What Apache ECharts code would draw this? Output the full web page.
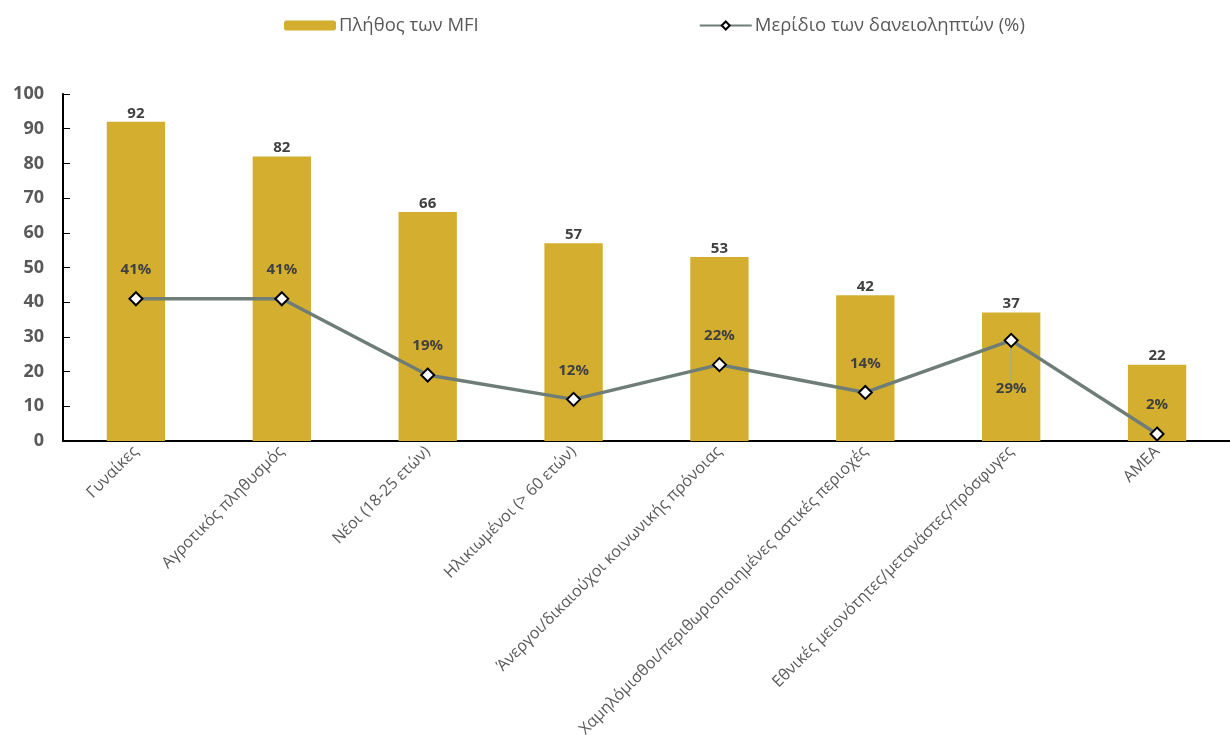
<!DOCTYPE html>
<html>
<head>
<meta charset="utf-8">
<script src="https://cdn.jsdelivr.net/npm/echarts@6/dist/echarts.min.js"></script>
<style>
  html, body { margin: 0; padding: 0; background: #ffffff; }
  #chart { width: 1230px; height: 744px; }
</style>
</head>
<body>
<div id="chart"></div>
<script>
// Target groups served by microfinance institutions
const categories = [
  'Γυναίκες',
  'Αγροτικός πληθυσμός',
  'Νέοι (18-25 ετών)',
  'Ηλικιωμένοι (> 60 ετών)',
  'Άνεργοι/δικαιούχοι κοινωνικής πρόνοιας',
  'Χαμηλόμισθοι/περιθωριοποιημένες αστικές περιοχές',
  'Εθνικές μειονότητες/μετανάστες/πρόσφυγες',
  'ΑΜΕΑ'
];
const mfiCount = [92, 82, 66, 57, 53, 42, 37, 22];
const borrowerShare = [41, 41, 19, 12, 22, 14, 29, 2];
const yTicks = [0, 10, 20, 30, 40, 50, 60, 70, 80, 90, 100];

// index of the share label that sits below its marker, joined by a leader line
const LABEL_BELOW = 6;

const FONT = '"Open Sans", "Noto Sans", sans-serif';
const chart = echarts.init(document.getElementById('chart'));

const shareData = borrowerShare.map((v, i) => (
  i === LABEL_BELOW
    ? { value: v, labelLine: { show: true, lineStyle: { color: '#A6A6A6', width: 1.5 } } }
    : { value: v }
));

chart.setOption({
  animation: false,
  textStyle: { fontFamily: FONT },
  legend: {
    top: 11,
    left: 279,
    itemGap: 220,
    itemWidth: 52,
    itemHeight: 10,
    textStyle: { fontFamily: FONT, fontSize: 18.5, color: '#595959', padding: [0, 0, 0, -2] },
    data: [
      { name: 'Πλήθος των MFI' },
      { name: 'Μερίδιο των δανειοληπτών (%)' }
    ]
  },
  grid: { left: 63, top: 94, bottom: 303, right: -8, containLabel: false },
  xAxis: {
    type: 'category',
    data: categories,
    axisLine: { lineStyle: { color: '#000000', width: 2 } },
    axisTick: { inside: true, length: 6, lineStyle: { color: '#000000' } },
    axisLabel: {
      rotate: 45,
      fontSize: 16,
      color: '#595959',
      margin: 8,
      interval: 0
    }
  },
  yAxis: {
    type: 'value',
    min: yTicks[0],
    max: yTicks[yTicks.length - 1],
    interval: 10,
    splitLine: { show: false },
    axisLine: { show: true, lineStyle: { color: '#000000', width: 2 } },
    axisTick: { show: true, inside: true, length: 7, lineStyle: { color: '#000000' } },
    axisLabel: { fontSize: 18, fontWeight: 'bold', color: '#595959', margin: 19 }
  },
  series: [
    {
      name: 'Πλήθος των MFI',
      type: 'bar',
      data: mfiCount,
      barWidth: '40%',
      itemStyle: { color: '#D4AF2F' },
      label: {
        show: true,
        position: 'top',
        distance: 1,
        fontSize: 15,
        fontWeight: 'bold',
        color: '#404040'
      }
    },
    {
      name: 'Μερίδιο των δανειοληπτών (%)',
      type: 'line',
      data: shareData,
      symbol: 'diamond',
      symbolSize: 13,
      z: 5,
      lineStyle: { color: '#6F7D78', width: 3.5 },
      itemStyle: { color: '#ffffff', borderColor: '#000000', borderWidth: 2 },
      label: {
        show: true,
        position: 'top',
        distance: 14,
        fontSize: 15,
        fontWeight: 'bold',
        color: '#404040',
        formatter: p => p.value + '%'
      },
      labelLine: { show: false },
      labelLayout: p => (p.dataIndex === LABEL_BELOW ? { dy: 77 } : {})
    }
  ]
});
</script>
</body>
</html>
